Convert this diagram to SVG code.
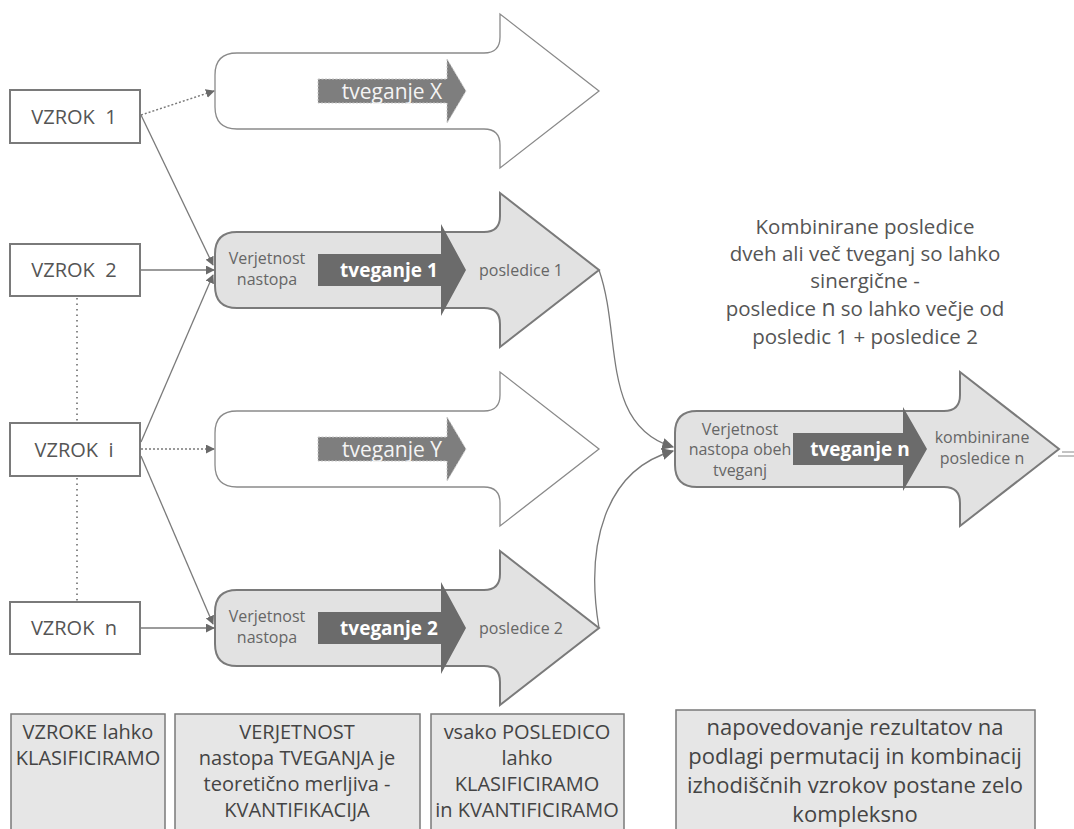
<svg xmlns="http://www.w3.org/2000/svg" width="1074" height="829" viewBox="0 0 1074 829">
<style>
.bg{fill:#ffffff}
.box{fill:#ffffff;stroke:#7a7a7a;stroke-width:2}
.vz{font-family:"Open Sans","Noto Sans","Liberation Sans",sans-serif;font-size:20px;fill:#555;text-anchor:middle}
.arrW{fill:#ffffff;stroke:#8a8a8a;stroke-width:1.3}
.arrG{fill:#e2e2e2;stroke:#7a7a7a;stroke-width:2}
.inD{fill:#6b6b6b}
.inL{fill:#7e7e7e;stroke:#c8c8c8;stroke-width:1;stroke-dasharray:2 1.5}
.tb{font-family:"Open Sans","Noto Sans","Liberation Sans",sans-serif;font-size:19px;font-weight:bold;fill:#ffffff;text-anchor:middle}
.tl{font-family:"Open Sans","Noto Sans","Liberation Sans",sans-serif;font-size:21px;fill:#f4f4f4;text-anchor:middle}
.sm{font-family:"Open Sans","Noto Sans","Liberation Sans",sans-serif;font-size:16px;fill:#666;text-anchor:middle}
.hd{font-family:"Open Sans","Noto Sans","Liberation Sans",sans-serif;font-size:20.5px;fill:#555;text-anchor:middle}
.nb{fill:#e6e6e6;stroke:#7a7a7a;stroke-width:1.5}
.nt{font-family:"Open Sans","Noto Sans","Liberation Sans",sans-serif;font-size:20px;fill:#444;text-anchor:middle}
.nt4{font-family:"Open Sans","Noto Sans","Liberation Sans",sans-serif;font-size:22px;fill:#444;text-anchor:middle}
.ln{fill:none;stroke:#7a7a7a;stroke-width:1.3}
.dot{fill:none;stroke:#7a7a7a;stroke-width:1.5;stroke-dasharray:2 2}
.vdot{fill:none;stroke:#8a8a8a;stroke-width:2;stroke-dasharray:1.5 4}
</style>
<defs>
<path id="big" d="M237,-38 H484 Q500,-38 500,-54 V-77 L599,0 L500,77 V54 Q500,38 484,38 H237 Q215,38 215,16 V-16 Q215,-38 237,-38 Z"/>
<marker id="ah" viewBox="0 0 10 10" refX="9" refY="5" markerWidth="9" markerHeight="9" markerUnits="userSpaceOnUse" orient="auto">
<path d="M0,0 L10,5 L0,10 Z" fill="#6a6a6a"/>
</marker>
<marker id="ah2" viewBox="0 0 10 10" refX="9" refY="5" markerWidth="12" markerHeight="12" markerUnits="userSpaceOnUse" orient="auto">
<path d="M0,0 L10,5 L0,10 Z" fill="#6a6a6a"/>
</marker>
</defs>
<rect class="bg" x="0" y="0" width="1074" height="829"/>

<g id="risk-x">
<use href="#big" class="arrW" transform="translate(0,91)"/>
<path class="inL" d="M318,79 H447 V59 L466,91 L447,123 V103 H318 Z"/>
<text class="tl" x="392" y="99">tveganje X</text>
</g>

<g id="risk-1">
<use href="#big" class="arrG" transform="translate(0,270)"/>
<path class="inD" d="M318,254 H441 V224 L466,270 L441,316 V286 H318 Z"/>
<text class="tb" x="389" y="277">tveganje 1</text>
<text class="sm" x="267" y="264">Verjetnost</text>
<text class="sm" x="267" y="285">nastopa</text>
<text class="sm" x="521" y="276">posledice 1</text>
</g>

<g id="risk-y">
<use href="#big" class="arrW" transform="translate(0,449)"/>
<path class="inL" d="M318,437 H447 V417 L466,449 L447,481 V461 H318 Z"/>
<text class="tl" x="392" y="457">tveganje Y</text>
</g>

<g id="risk-2">
<use href="#big" class="arrG" transform="translate(0,628)"/>
<path class="inD" d="M318,612 H441 V582 L466,628 L441,674 V644 H318 Z"/>
<text class="tb" x="389" y="635">tveganje 2</text>
<text class="sm" x="267" y="622">Verjetnost</text>
<text class="sm" x="267" y="643">nastopa</text>
<text class="sm" x="521" y="634">posledice 2</text>
</g>

<g id="risk-n">
<use href="#big" class="arrG" transform="translate(460,449)"/>
<path class="inD" d="M793,433 H903 V407 L927,449 L903,491 V465 H793 Z"/>
<text class="tb" x="860" y="456">tveganje n</text>
<text class="sm" x="740" y="435">Verjetnost</text>
<text class="sm" x="740" y="455">nastopa obeh</text>
<text class="sm" x="740" y="476">tveganj</text>
<text class="sm" x="982" y="443">kombinirane</text>
<text class="sm" x="982" y="464">posledice n</text>
<line x1="1062" y1="452" x2="1074" y2="452" stroke="#888" stroke-width="1"/>
<line x1="1058" y1="456" x2="1074" y2="456" stroke="#888" stroke-width="1"/>
</g>

<g id="vzrok-1">
<rect class="box" x="10" y="90" width="130" height="53"/>
<text class="vz" x="74" y="124">VZROK&#160;&#160;1</text>
</g>
<g id="vzrok-2">
<rect class="box" x="10" y="244" width="130" height="52"/>
<text class="vz" x="74" y="277">VZROK&#160;&#160;2</text>
</g>
<g id="vzrok-i">
<rect class="box" x="10" y="423" width="130" height="53"/>
<text class="vz" x="74" y="457">VZROK&#160;&#160;i</text>
</g>
<g id="vzrok-n">
<rect class="box" x="10" y="602" width="130" height="52"/>
<text class="vz" x="74" y="635">VZROK&#160;&#160;n</text>
</g>

<g id="note">
<text class="hd" x="865" y="234">Kombinirane posledice</text>
<text class="hd" x="865" y="261">dveh ali več tveganj so lahko</text>
<text class="hd" x="865" y="288">sinergične -</text>
<text class="hd" x="865" y="316">posledice <tspan font-size="23">n</tspan> so lahko večje od</text>
<text class="hd" x="865" y="344">posledic 1 + posledice 2</text>
</g>

<g id="connectors">
<line class="vdot" x1="77" y1="298" x2="77" y2="422"/>
<line class="vdot" x1="77" y1="478" x2="77" y2="601"/>
<line class="dot" x1="141" y1="115" x2="214" y2="91" marker-end="url(#ah)"/>
<line class="ln" x1="141" y1="115" x2="213" y2="265" marker-end="url(#ah)"/>
<line class="ln" x1="141" y1="270" x2="214" y2="270" marker-end="url(#ah)"/>
<line class="ln" x1="141" y1="442" x2="213" y2="275" marker-end="url(#ah)"/>
<line class="dot" x1="141" y1="449" x2="214" y2="449" marker-end="url(#ah)"/>
<line class="ln" x1="141" y1="456" x2="213" y2="624" marker-end="url(#ah)"/>
<line class="ln" x1="141" y1="628" x2="214" y2="628" marker-end="url(#ah)"/>
<path class="ln" d="M599,270 C622,335 600,425 673,447" marker-end="url(#ah2)"/>
<path class="ln" d="M599,628 C585,545 605,470 673,451" marker-end="url(#ah2)"/>
</g>

<g id="note-1">
<rect class="nb" x="11" y="714" width="154" height="130"/>
<text class="nt" x="88" y="739">VZROKE lahko</text>
<text class="nt" x="88" y="765">KLASIFICIRAMO</text>
</g>
<g id="note-2">
<rect class="nb" x="175" y="714" width="245" height="130"/>
<text class="nt" x="297" y="739">VERJETNOST</text>
<text class="nt" x="297" y="765">nastopa TVEGANJA je</text>
<text class="nt" x="297" y="791">teoretično merljiva -</text>
<text class="nt" x="297" y="817">KVANTIFIKACIJA</text>
</g>
<g id="note-3">
<rect class="nb" x="431" y="714" width="193" height="130"/>
<text class="nt" x="527" y="739">vsako POSLEDICO</text>
<text class="nt" x="527" y="765">lahko</text>
<text class="nt" x="527" y="791">KLASIFICIRAMO</text>
<text class="nt" x="527" y="817">in KVANTIFICIRAMO</text>
</g>
<g id="note-4">
<rect class="nb" x="676" y="710" width="359" height="130"/>
<text class="nt4" x="855" y="735">napovedovanje rezultatov na</text>
<text class="nt4" x="855" y="764">podlagi permutacij in kombinacij</text>
<text class="nt4" x="855" y="793">izhodiščnih vzrokov postane zelo</text>
<text class="nt4" x="855" y="822">kompleksno</text>
</g>
</svg>
